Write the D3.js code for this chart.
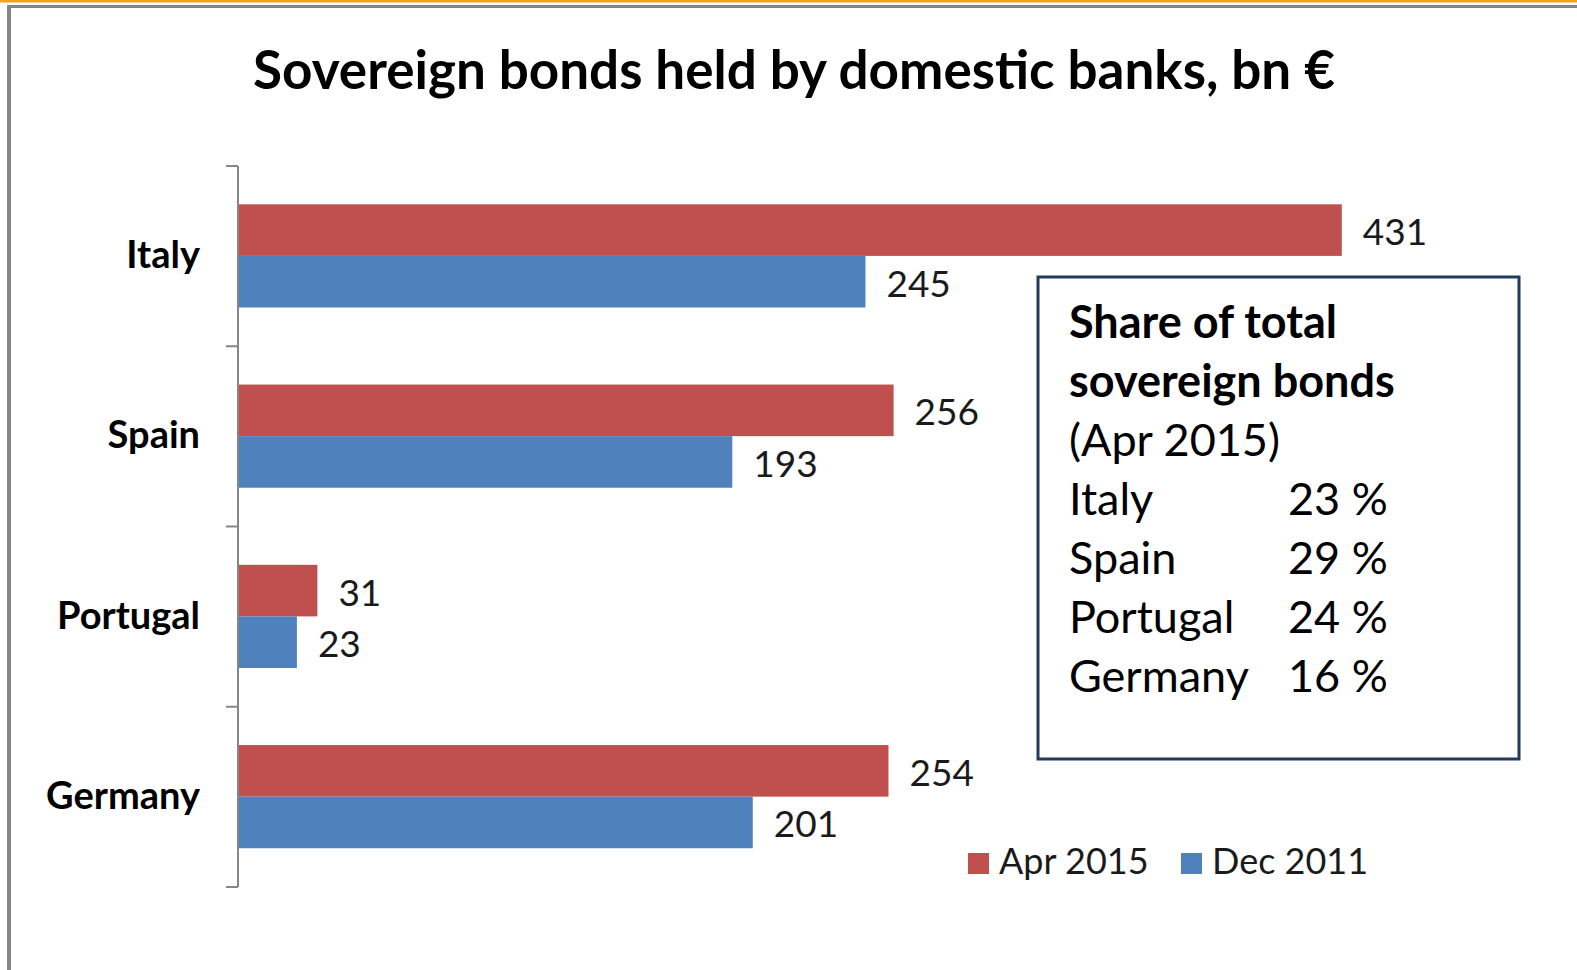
<!DOCTYPE html>
<html>
<head>
<meta charset="utf-8">
<script src="https://cdn.jsdelivr.net/npm/d3@7/dist/d3.min.js"></script>
<style>
  html, body { margin: 0; padding: 0; background: #fff; }
  svg { display: block; }
  text { font-family: Lato, "Open Sans", sans-serif; }
</style>
</head>
<body>
<svg id="chart" width="1577" height="970"></svg>
<script>
// Sovereign bonds held by domestic banks (bn €)
const categories = ["Italy", "Spain", "Portugal", "Germany"];
const seriesNames = ["Apr 2015", "Dec 2011"];
const apr2015 = [431, 256, 31, 254];
const dec2011 = [245, 193, 23, 201];
const shareCountries = ["Italy", "Spain", "Portugal", "Germany"];
const shareValues = [23, 29, 24, 16];

const colors = { "Apr 2015": "#C0504D", "Dec 2011": "#4F81BD" };
const values = { "Apr 2015": apr2015, "Dec 2011": dec2011 };

const svg = d3.select("#chart");
const W = 1577, H = 970;

// frame lines
svg.append("rect").attr("x", 0).attr("y", 0).attr("width", W).attr("height", 2.5).attr("fill", "#F5A01E");
svg.append("rect").attr("x", 7).attr("y", 5).attr("width", W - 7).attr("height", 3).attr("fill", "#858585");
svg.append("rect").attr("x", 7).attr("y", 5).attr("width", 4).attr("height", H - 5).attr("fill", "#858585");

// title
svg.append("text")
  .attr("x", 794).attr("y", 89)
  .attr("text-anchor", "middle")
  .attr("font-weight", "bold")
  .attr("font-size", 53)
  .attr("fill", "#000")
  .text("Sovereign bonds held by domestic banks, bn €");

// scales
const x = d3.scaleLinear().domain([0, 500]).range([238, 238 + 1280.5]);
const y = d3.scaleBand().domain(categories).range([166, 887]).paddingInner(0).paddingOuter(0);
const step = y.step();
const ySeries = d3.scaleBand().domain(seriesNames).range([step * 0.2125, step * 0.785]);

const rows = categories.map((c, i) => ({ cat: c, vals: seriesNames.map(s => ({ s, v: values[s][i] })) }));

const groups = svg.append("g").selectAll("g").data(rows).join("g")
  .attr("transform", d => `translate(0,${y(d.cat)})`);

groups.selectAll("rect").data(d => d.vals).join("rect")
  .attr("x", x(0))
  .attr("y", d => ySeries(d.s))
  .attr("width", d => x(d.v) - x(0))
  .attr("height", ySeries.bandwidth())
  .attr("fill", d => colors[d.s]);

groups.selectAll("text.val").data(d => d.vals).join("text")
  .attr("class", "val")
  .attr("x", d => x(d.v) + 21)
  .attr("y", d => ySeries(d.s) + ySeries.bandwidth() / 2 + 15)
  .attr("font-size", 37)
  .attr("fill", "#1a1a1a")
  .text(d => d.v);

// category axis with ticks on band boundaries
const axis = svg.append("g");
axis.append("line")
  .attr("x1", x(0)).attr("x2", x(0))
  .attr("y1", y.range()[0]).attr("y2", y.range()[1])
  .attr("stroke", "#868686").attr("stroke-width", 2);
const bounds = categories.map(c => y(c)).concat([y.range()[1]]);
axis.selectAll("line.tick").data(bounds).join("line")
  .attr("class", "tick")
  .attr("x1", x(0) - 12).attr("x2", x(0))
  .attr("y1", d => d).attr("y2", d => d)
  .attr("stroke", "#868686").attr("stroke-width", 2);
axis.selectAll("text").data(categories).join("text")
  .attr("x", 200)
  .attr("y", d => y(d) + step / 2 + 12)
  .attr("text-anchor", "end")
  .attr("font-weight", "bold")
  .attr("font-size", 38)
  .attr("fill", "#000")
  .text(d => d);

// legend
const legend = svg.append("g").selectAll("g").data(seriesNames).join("g")
  .attr("transform", (d, i) => `translate(${968 + i * 213},853)`);
legend.append("rect").attr("width", 21).attr("height", 21).attr("fill", d => colors[d]);
legend.append("text").attr("x", 31).attr("y", 21)
  .attr("font-size", 36).attr("fill", "#1a1a1a").text(d => d);

// inset box with shares
const box = svg.append("g");
box.append("rect")
  .attr("x", 1038).attr("y", 277).attr("width", 481).attr("height", 482)
  .attr("fill", "#fff").attr("stroke", "#223A5E").attr("stroke-width", 3);
const headLines = [
  { t: "Share of total", bold: true },
  { t: "sovereign bonds", bold: true },
  { t: "(Apr 2015)", bold: false }
];
box.selectAll("text.head").data(headLines).join("text")
  .attr("class", "head")
  .attr("x", 1069).attr("y", (d, i) => 338 + i * 59)
  .attr("font-size", 45)
  .attr("font-weight", d => d.bold ? "bold" : "normal")
  .attr("fill", "#000")
  .text(d => d.t);
const shareRows = shareCountries.map((c, i) => ({ c, v: shareValues[i] }));
box.selectAll("text.name").data(shareRows).join("text")
  .attr("class", "name")
  .attr("x", 1069).attr("y", (d, i) => 338 + (i + 3) * 59)
  .attr("font-size", 45).attr("fill", "#000")
  .text(d => d.c);
box.selectAll("text.pct").data(shareRows).join("text")
  .attr("class", "pct")
  .attr("x", 1288).attr("y", (d, i) => 338 + (i + 3) * 59)
  .attr("font-size", 45).attr("fill", "#000")
  .text(d => d.v + " %");
</script>
</body>
</html>
